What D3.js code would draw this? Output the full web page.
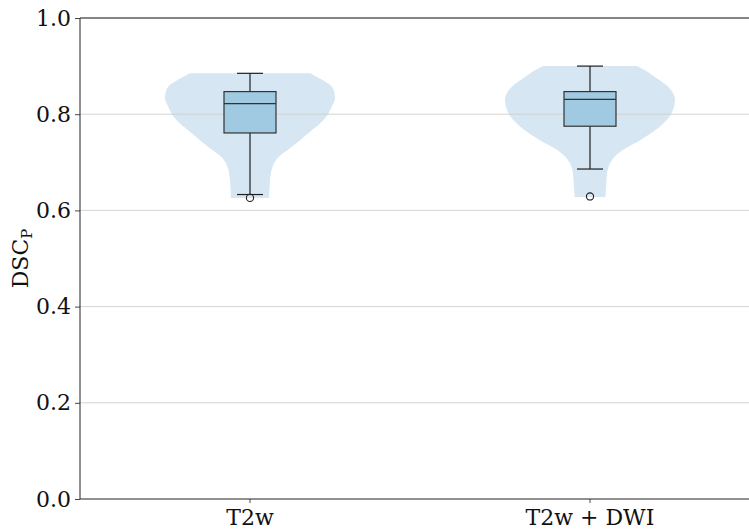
<!DOCTYPE html>
<html>
<head>
<meta charset="utf-8">
<script src="https://cdn.jsdelivr.net/npm/d3@7"></script>
<style>
  html, body { margin: 0; padding: 0; background: #fff; }
  svg { display: block; font-family: "DejaVu Serif", serif; }
</style>
</head>
<body>
<svg id="chart" width="749" height="530"></svg>
<script>
// Groups on the x axis
const categories = ["T2w", "T2w + DWI"];

// Box-plot statistics per group
const q1 = [0.761, 0.775];
const median = [0.822, 0.831];
const q3 = [0.847, 0.847];
const whiskerLow = [0.633, 0.686];
const whiskerHigh = [0.885, 0.900];
const outliers = [[0.626], [0.629]];

// Violin outlines: sampled values and relative density (1 = widest)
const violinValues = [
  [0.885, 0.874, 0.861, 0.847, 0.833, 0.815, 0.798, 0.780, 0.764, 0.746, 0.729, 0.708, 0.688, 0.660, 0.626],
  [0.900, 0.889, 0.878, 0.857, 0.830, 0.802, 0.774, 0.746, 0.726, 0.705, 0.677, 0.649, 0.628]
];
const violinDensity = [
  [0.71, 0.82, 0.94, 0.99, 1.00, 0.96, 0.91, 0.82, 0.71, 0.59, 0.47, 0.32, 0.26, 0.235, 0.225],
  [0.55, 0.67, 0.76, 0.92, 1.00, 0.96, 0.82, 0.59, 0.39, 0.26, 0.20, 0.19, 0.18]
];

// Y axis ticks
const yTicks = [0.0, 0.2, 0.4, 0.6, 0.8, 1.0];

const svg = d3.select("#chart");
const margin = { left: 80, top: 18, bottom: 31 };
const plotRight = 760;
const H = 530;

const x = d3.scaleBand().domain(categories).range([margin.left, plotRight]).padding(0);
const y = d3.scaleLinear().domain([0, 1]).range([H - margin.bottom, margin.top]);
const violinHalf = d3.scaleLinear().domain([0, 1]).range([0, 85]);
const boxHalf = 26, capHalf = 13;

const cx = c => x(c) + x.bandwidth() / 2;

// Violins
const violinLayer = svg.append("g");
categories.forEach((c, i) => {
  const pts = violinValues[i].map((v, j) => ({ v, d: violinDensity[i][j] }));
  const area = d3.area()
    .y(p => y(p.v))
    .x0(p => cx(c) - violinHalf(p.d))
    .x1(p => cx(c) + violinHalf(p.d))
    .curve(d3.curveMonotoneY);
  violinLayer.append("path")
    .attr("d", area(pts))
    .attr("fill", "#d6e6f2");
});

// Horizontal grid
svg.append("g")
  .selectAll("line")
  .data(yTicks.filter(t => t > 0))
  .join("line")
  .attr("x1", margin.left).attr("x2", plotRight)
  .attr("y1", d => y(d)).attr("y2", d => y(d))
  .attr("stroke", "#cfcfcf")
  .attr("stroke-width", 0.9);

// Box plots
const boxLayer = svg.append("g");
const ink = "#1f1f1f";
categories.forEach((c, i) => {
  const g = boxLayer.append("g");
  const m = cx(c);
  // whiskers
  g.append("line").attr("x1", m).attr("x2", m)
    .attr("y1", y(q3[i])).attr("y2", y(whiskerHigh[i]))
    .attr("stroke", ink).attr("stroke-width", 1.2);
  g.append("line").attr("x1", m).attr("x2", m)
    .attr("y1", y(q1[i])).attr("y2", y(whiskerLow[i]))
    .attr("stroke", ink).attr("stroke-width", 1.2);
  // caps
  [whiskerHigh[i], whiskerLow[i]].forEach(w => {
    g.append("line").attr("x1", m - capHalf).attr("x2", m + capHalf)
      .attr("y1", y(w)).attr("y2", y(w))
      .attr("stroke", ink).attr("stroke-width", 1.2);
  });
  // box
  g.append("rect")
    .attr("x", m - boxHalf).attr("width", boxHalf * 2)
    .attr("y", y(q3[i])).attr("height", y(q1[i]) - y(q3[i]))
    .attr("fill", "#9fcae1").attr("stroke", "#333").attr("stroke-width", 1.2);
  // median
  g.append("line").attr("x1", m - boxHalf).attr("x2", m + boxHalf)
    .attr("y1", y(median[i])).attr("y2", y(median[i]))
    .attr("stroke", "#333").attr("stroke-width", 1.2);
  // outliers
  g.selectAll("circle").data(outliers[i]).join("circle")
    .attr("cx", m).attr("cy", d => y(d)).attr("r", 3.6)
    .attr("fill", "none").attr("stroke", ink).attr("stroke-width", 1.1);
});

// Axes
const yAxis = d3.axisLeft(y).tickValues(yTicks).tickFormat(d3.format(".1f")).tickSize(5).tickPadding(4);
const yg = svg.append("g").attr("transform", `translate(${margin.left},0)`).call(yAxis);
const xAxis = d3.axisBottom(x).tickSize(4).tickPadding(6);
const xg = svg.append("g").attr("transform", `translate(0,${H - margin.bottom})`).call(xAxis);
[yg, xg].forEach(g => {
  g.select(".domain").remove();
  g.selectAll("line").attr("stroke", "#333").attr("stroke-width", 0.9);
  g.selectAll("text").attr("font-family", "DejaVu Serif, serif").attr("font-size", 22).attr("fill", "#111");
});

// Spines
const spine = svg.append("g").attr("stroke", "#222").attr("stroke-width", 1);
spine.append("line").attr("x1", margin.left).attr("x2", margin.left).attr("y1", y(0)).attr("y2", y(1));
spine.append("line").attr("x1", margin.left).attr("x2", plotRight).attr("y1", y(0)).attr("y2", y(0));
spine.append("line").attr("x1", margin.left).attr("x2", plotRight).attr("y1", y(1)).attr("y2", y(1));
spine.append("line").attr("x1", plotRight).attr("x2", plotRight).attr("y1", y(0)).attr("y2", y(1));

// Y label with subscript
const label = svg.append("text")
  .attr("transform", `translate(28,${(y(0) + y(1)) / 2}) rotate(-90)`)
  .attr("text-anchor", "middle")
  .attr("font-size", 22)
  .attr("fill", "#111");
label.append("tspan").text("DSC");
label.append("tspan").attr("font-size", 15).attr("dy", 4).text("P");
</script>
</body>
</html>
